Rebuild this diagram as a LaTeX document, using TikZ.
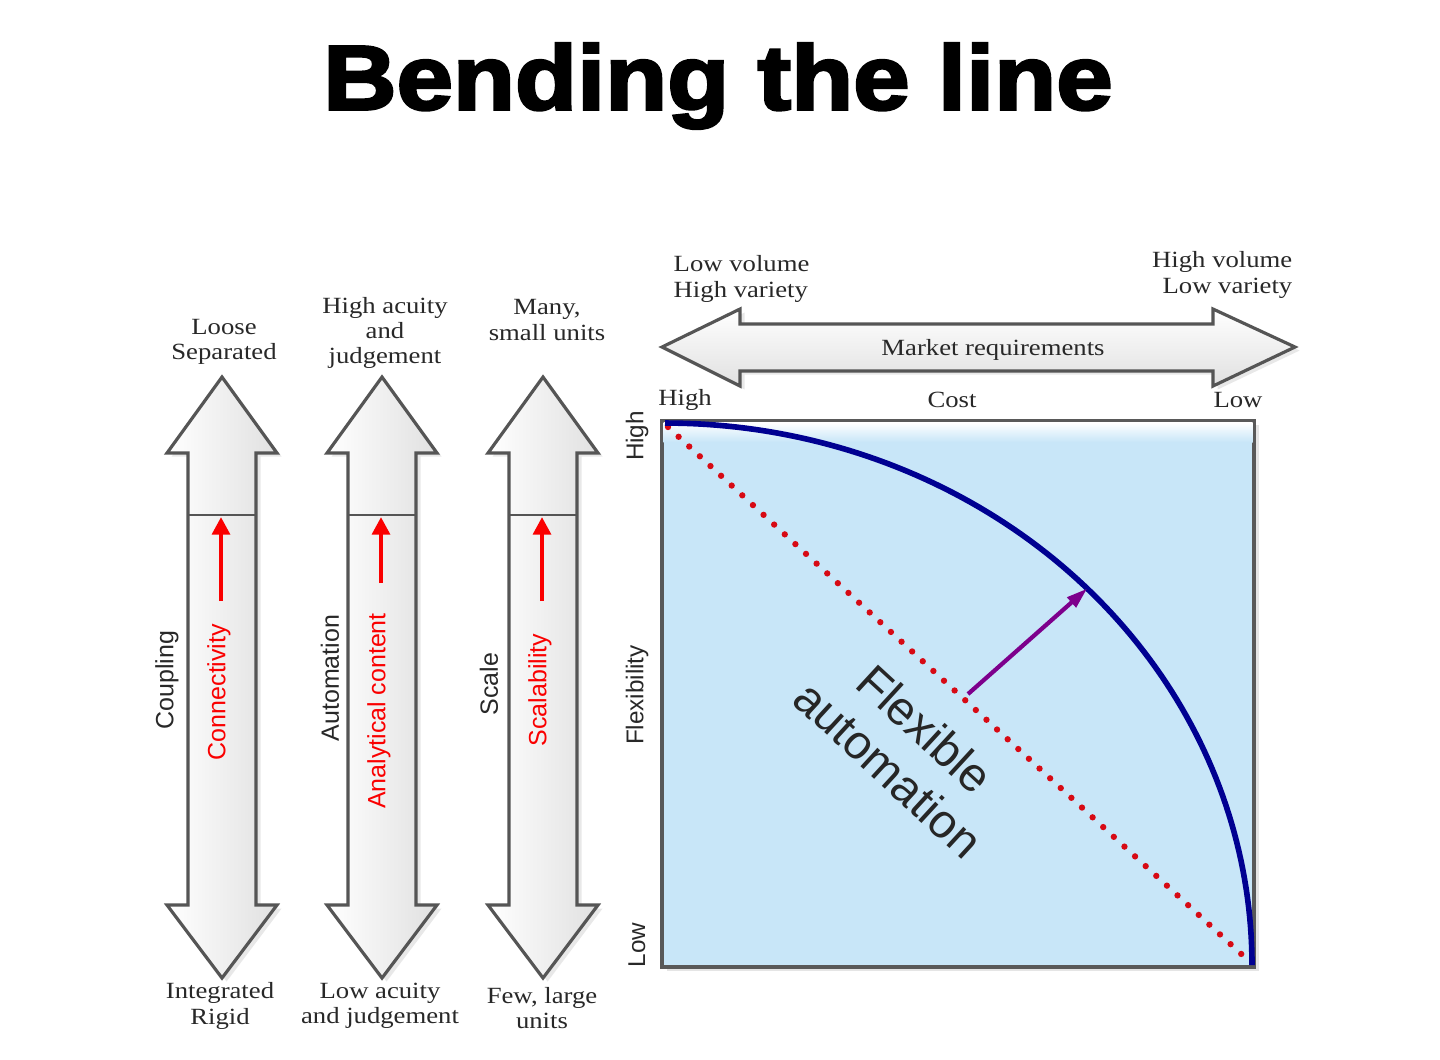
\documentclass[tikz,border=0pt]{standalone}
\usepackage{fontspec}
\setmainfont{Liberation Serif}[FakeStretch=1.15]
\setsansfont{Liberation Sans}
\newfontfamily\titlefont{Liberation Sans Bold}[FakeBold=3,FakeStretch=1.11]
\usetikzlibrary{arrows.meta,shadows}
\usepackage{xcolor}
\definecolor{boxblue}{RGB}{200,230,248}
\definecolor{curveblue}{RGB}{0,0,145}
\definecolor{dotred}{RGB}{215,10,20}
\definecolor{arrowred}{RGB}{250,0,0}
\definecolor{flexpurple}{RGB}{125,0,140}
\definecolor{outlinegray}{RGB}{85,85,85}
\definecolor{textdark}{RGB}{40,40,40}

\begin{document}
\begin{tikzpicture}[x=0.01cm,y=-0.01cm,
  serif/.style={font=\fontsize{6.6}{7.2}\selectfont,text=textdark,align=center,inner sep=0pt},
  sidesans/.style={font=\sffamily\fontsize{7.1}{8}\selectfont,rotate=90,inner sep=0pt},
  bigarrow/.style={draw=outlinegray,line width=0.9pt,line join=miter,
    drop shadow={shadow xshift=1.3pt,shadow yshift=-1pt,opacity=0.18}}]

  % ── CANVAS ─────────────────────────────────────────────────────────────────
  \fill[white] (0,0) rectangle (1440,1059);
  \useasboundingbox (0,0) rectangle (1440,1059);

  % ── TITLE ──────────────────────────────────────────────────────────────────
  \node[font=\titlefont\fontsize{26}{30}\selectfont,text=black] (title)
    at (718,86) {Bending the line};

  % ── THREE VERTICAL DOUBLE ARROWS ───────────────────────────────────────────
  \foreach \cx/\nm/\ry in {222/cpl/601,382/aut/583,543/scl/601}{
    \draw[bigarrow,left color=white,middle color=gray!8,right color=gray!24]
      (\cx,377) -- (\cx+55,453) -- (\cx+34,453) -- (\cx+34,905) -- (\cx+55,905)
      -- (\cx,978) -- (\cx-55,905) -- (\cx-34,905) -- (\cx-34,453) -- (\cx-55,453) -- cycle;
    \draw[outlinegray,line width=0.7pt] (\cx-34,515) -- (\cx+34,515);
    % red push arrow
    \coordinate (\nm-lo) at (\cx-1,\ry);
    \coordinate (\nm-hi) at (\cx-1,517);
    \draw[arrowred,line width=1.2pt,-{Triangle[length=5pt,width=5pt]}] (\nm-lo) -- (\nm-hi);
  }

  % end labels
  \node[serif] (cpl-top) at (224,342) {Loose\\Separated};
  \node[serif] (aut-top) at (385,333) {High acuity\\and\\judgement};
  \node[serif] (scl-top) at (547,320) {Many,\\small units};
  \node[serif] (cpl-bot) at (220,1006) {Integrated\\Rigid};
  \node[serif] (aut-bot) at (380,1006) {Low acuity\\and judgement};
  \node[serif] (scl-bot) at (542,1008) {Few, large\\units};

  % axis labels along the arrows
  \node[sidesans,text=textdark] (cpl-axis) at (167,680) {Coupling};
  \node[sidesans,text=textdark] (aut-axis) at (330,678) {Automation};
  \node[sidesans,text=textdark] (scl-axis) at (489,684) {Scale};
  \node[sidesans,text=arrowred] (cpl-red) at (219,692) {Connectivity};
  \node[sidesans,text=arrowred] (aut-red) at (379,711) {Analytical content};
  \node[sidesans,text=arrowred] (scl-red) at (540,690) {Scalability};

  % ── MARKET REQUIREMENTS ARROW ──────────────────────────────────────────────
  \draw[bigarrow,top color=white,bottom color=gray!24]
    (662,347) -- (740,309) -- (740,324) -- (1213,324) -- (1213,309) -- (1295,347)
    -- (1213,386) -- (1213,371) -- (740,371) -- (740,386) -- cycle;
  \node[serif] (market) at (993,350) {Market requirements};
  \node[serif,anchor=west,align=left] (lowvol) at (673,279) {Low volume\\High variety};
  \node[serif,anchor=east,align=right] (highvol) at (1293,275) {High volume\\Low variety};

  % ── COST / FLEXIBILITY PANEL ───────────────────────────────────────────────
  \draw[draw=gray!70!black,line width=0.9pt,fill=boxblue,
        drop shadow={shadow xshift=1.3pt,shadow yshift=-1pt,opacity=0.2}]
    (662,421) rectangle (1254,967);
  \shade[top color=white,bottom color=boxblue] (663.5,422.5) rectangle (1252.5,442);

  \node[serif] (costhigh) at (685,400) {High};
  \node[serif] (cost) at (952,400) {Cost};
  \node[serif] (costlow) at (1238,400) {Low};
  \node[sidesans,font=\sffamily\fontsize{6.9}{8}\selectfont,text=textdark] (flexhigh) at (637,436) {High};
  \node[sidesans,font=\sffamily\fontsize{6.9}{8}\selectfont,text=textdark] (flex) at (637,695) {Flexibility};
  \node[sidesans,font=\sffamily\fontsize{6.9}{8}\selectfont,text=textdark] (flexlow) at (637,945) {Low};

  % straight trade-off line
  \draw[dotred,line width=1.8pt,line cap=round,dash pattern=on 0pt off 4.1pt]
    (668,427) -- (1250,962);

  % bent frontier
  \draw[curveblue,line width=1.6pt]
    plot[domain=0:90,samples=90] ({665+587*cos(\x)},{965-542*sin(\x)});

  % push outwards
  \coordinate (fa-lo) at (968,694);
  \coordinate (fa-hi) at ({665+587*cos(44)},{965-542*sin(44)});
  \draw[flexpurple,line width=1.2pt,-{Triangle[length=6pt,width=3.6pt]}] (fa-lo) -- (fa-hi);

  \node[font=\sffamily\fontsize{13.5}{15.5}\selectfont,text=black!85,align=center,rotate=-42.6]
    (flexauto) at (907,749) {Flexible\\automation};

\end{tikzpicture}
\end{document}
